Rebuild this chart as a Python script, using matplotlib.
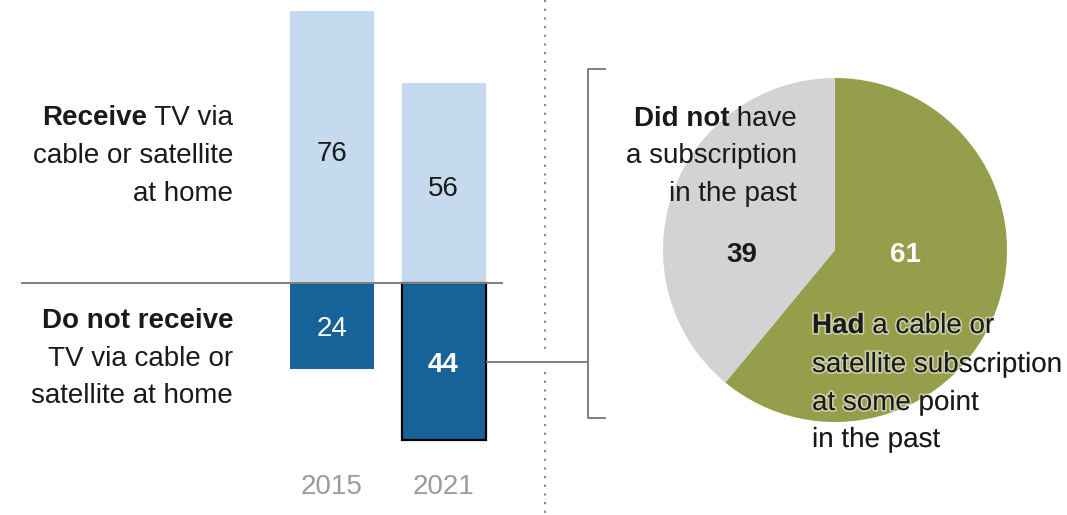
import matplotlib
matplotlib.use("Agg")
import matplotlib.pyplot as plt
import matplotlib.patheffects as pe
import numpy as np

plt.rcParams['font.family'] = ['Liberation Sans', 'DejaVu Sans']

# ---- data ----
years = ["2015", "2021"]
receive = [76, 56]
not_receive = [24, 44]
pie_labels = ["Had", "Did not"]
pie_values = [61, 39]

W, H = 1067, 515
fig = plt.figure(figsize=(W / 100, H / 100), dpi=100)

LIGHT = "#C6DAEF"
DARK = "#166399"
GREEN = "#959E4A"
GREY = "#D2D3D5"
TXT = "#1a1a1a"
LINE = "#808080"
FS = 20

# overlay axes in pixel coordinates (for decoration / text)
ov = fig.add_axes([0, 0, 1, 1], zorder=5)
ov.set_xlim(0, W)
ov.set_ylim(H, 0)
ov.axis("off")
ov.patch.set_alpha(0)

# ---- bar axes ----
scale_y = 3.575  # px per unit
base_px = 283
x0_px, step_px = 332, 111.5
axw = 545
ax = fig.add_axes([0, 0, axw / W, 1], zorder=2)
ax.set_xlim(-x0_px / step_px, (axw - x0_px) / step_px)
ax.set_ylim(-(H - base_px) / scale_y, base_px / scale_y)
ax.axis("off")
x = np.arange(len(years))
bw = 84 / step_px
ax.bar(x, receive, width=bw, color=LIGHT, linewidth=0)
neg = [-v for v in not_receive]
bars2 = ax.bar(x, neg, width=bw, color=DARK, linewidth=0)
bars2[1].set_edgecolor("black")
bars2[1].set_linewidth(1.6)
ax.plot([(22 - x0_px) / step_px, (502 - x0_px) / step_px], [0, 0], color=LINE, lw=1.4, zorder=3)

for i, v in enumerate(receive):
    ax.text(x[i], v / 2 - 1.8, str(v), ha="center", va="center", fontsize=FS, color=TXT)
for i, v in enumerate(not_receive):
    ax.text(x[i], -v / 2 - 1.0, str(v), ha="center", va="center", fontsize=FS,
            color="white", fontweight="bold" if i == 1 else "normal")
for i, yr in enumerate(years):
    ax.text(x[i], -(487 - base_px) / scale_y, yr, ha="center", va="center",
            fontsize=FS, color="#9b9b9b")


def right_mixed(xr, yc, bold, regular):
    if not regular:
        ov.text(xr, yc + 10, bold, ha="right", va="baseline", fontsize=FS,
                color=TXT, fontweight="bold")
        return
    t = ov.text(xr, yc + 10, regular, ha="right", va="baseline", fontsize=FS, color=TXT)
    if bold:
        ov.annotate(bold, xy=(0, 0), xycoords=t, ha="right", va="bottom",
                    fontsize=FS, color=TXT, fontweight="bold")


def left_mixed(xl, yc, bold, regular, effects=None):
    if bold:
        b = ov.text(xl, yc + 10, bold, ha="left", va="baseline", fontsize=FS,
                    color=TXT, fontweight="bold", path_effects=effects)
        ov.annotate(regular, xy=(1, 0), xycoords=b, ha="left", va="bottom",
                    fontsize=FS, color=TXT, path_effects=effects)
    else:
        ov.text(xl, yc + 10, regular, ha="left", va="baseline", fontsize=FS,
                color=TXT, path_effects=effects)


right_mixed(233, 115, "Receive", " TV via")
right_mixed(233, 153, None, "cable or satellite")
right_mixed(233, 191, None, "at home")
right_mixed(233, 318, "Do not receive", "")
right_mixed(233, 356, None, "TV via cable or")
right_mixed(233, 393, None, "satellite at home")

# dotted divider
ov.plot([545, 545], [0, 352], color="#8a8a8a", lw=1.6, ls=(0, (1, 2.9)))
ov.plot([545, 545], [372, H], color="#8a8a8a", lw=1.6, ls=(0, (1, 2.9)))

# connector and bracket
ov.plot([487, 588], [362, 362], color=LINE, lw=1.4)
ov.plot([605, 588, 588, 605], [69, 69, 418, 418], color=LINE, lw=1.4)

# ---- pie ----
cx, cy, r = 835, 250, 172
pax = fig.add_axes([(cx - r) / W, (H - cy - r) / H, 2 * r / W, 2 * r / H], zorder=3)
pax.pie(pie_values, colors=[GREEN, GREY], startangle=90, counterclock=False,
        wedgeprops=dict(linewidth=0))
pax.set_xlim(-1, 1)
pax.set_ylim(-1, 1)
pax.set_aspect("equal")
pax.axis("off")

ov.text(905, 255, str(pie_values[0]), ha="center", va="center", fontsize=FS,
        color="white", fontweight="bold")
ov.text(742, 255, str(pie_values[1]), ha="center", va="center", fontsize=FS,
        color=TXT, fontweight="bold")

right_mixed(797, 116, "Did not", " have")
right_mixed(797, 153, None, "a subscription")
right_mixed(797, 191, None, "in the past")

halo = [pe.withStroke(linewidth=2.5, foreground=(1, 1, 1, 0.5))]
left_mixed(812, 323, "Had", " a cable or", halo)
left_mixed(812, 362, None, "satellite subscription", halo)
left_mixed(812, 400, None, "at some point", halo)
left_mixed(812, 437, None, "in the past", halo)

fig.savefig("out.png", dpi=100)
